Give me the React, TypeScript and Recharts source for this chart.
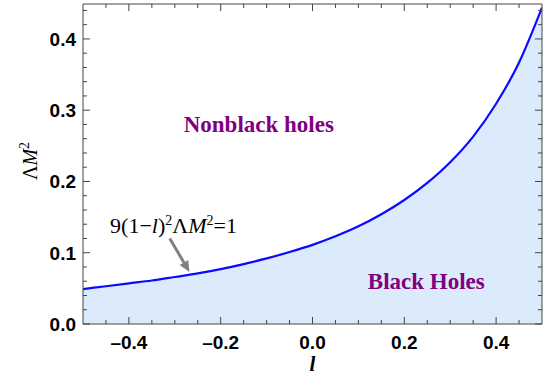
import {
  ComposedChart,
  Area,
  Line,
  XAxis,
  YAxis,
  ReferenceLine,
  ReferenceDot,
} from "recharts";

const L_VALUES = [
  -0.5, -0.45, -0.4, -0.35, -0.3, -0.25, -0.2, -0.15, -0.1, -0.05, 0, 0.05, 0.1,
  0.15, 0.2, 0.25, 0.3, 0.35, 0.4, 0.45, 0.5,
];
const LAMBDA_M2 = [
  0.049, 0.053, 0.057, 0.061, 0.066, 0.071, 0.077, 0.084, 0.092, 0.101, 0.111,
  0.123, 0.137, 0.154, 0.174, 0.198, 0.227, 0.263, 0.309, 0.367, 0.444,
];

const X_TICKS = [
  -0.45, -0.4, -0.35, -0.3, -0.25, -0.2, -0.15, -0.1, -0.05, 0, 0.05, 0.1, 0.15,
  0.2, 0.25, 0.3, 0.35, 0.4, 0.45,
];
const Y_TICKS = [
  0, 0.02, 0.04, 0.06, 0.08, 0.1, 0.12, 0.14, 0.16, 0.18, 0.2, 0.22, 0.24, 0.26,
  0.28, 0.3, 0.32, 0.34, 0.36, 0.38, 0.4, 0.42, 0.44,
];

const data = L_VALUES.map((l, i) => ({ l, y: LAMBDA_M2[i] }));

const FRAME = "#444";
const TICK_FONT = "'Liberation Sans', Arial, sans-serif";
const SERIF = "'Liberation Serif', 'Times New Roman', serif";
const PURPLE = "#800080";

const isMult = (v: number, step: number) =>
  Math.abs(v / step - Math.round(v / step)) < 1e-6;

// en dash for negatives, like the original
const fmt = (v: number) => (v < 0 ? "\u2013" + (-v).toFixed(1) : v.toFixed(1));

const BottomTick = (p: any) => {
  const v = p.payload.value;
  const major = isMult(v, 0.2);
  return (
    <g>
      <line x1={p.x} y1={p.y} x2={p.x} y2={p.y - (major ? 7 : 4)} stroke={FRAME} />
      {major && (
        <text
          x={p.x}
          y={p.y + 25}
          textAnchor="middle"
          fontFamily={TICK_FONT}
          fontWeight="bold"
          fontSize={19}
          fill="#000"
        >
          {fmt(v)}
        </text>
      )}
    </g>
  );
};

const TopTick = (p: any) => {
  const major = isMult(p.payload.value, 0.2);
  return <line x1={p.x} y1={p.y} x2={p.x} y2={p.y + (major ? 7 : 4)} stroke={FRAME} />;
};

const LeftTick = (p: any) => {
  const v = p.payload.value;
  const major = isMult(v, 0.1);
  return (
    <g>
      <line x1={p.x} y1={p.y} x2={p.x + (major ? 7 : 4)} y2={p.y} stroke={FRAME} />
      {major && (
        <text
          x={p.x - 7}
          y={p.y + 7}
          textAnchor="end"
          fontFamily={TICK_FONT}
          fontWeight="bold"
          fontSize={19}
          fill="#000"
        >
          {fmt(v)}
        </text>
      )}
    </g>
  );
};

const RightTick = (p: any) => {
  const major = isMult(p.payload.value, 0.1);
  return <line x1={p.x} y1={p.y} x2={p.x - (major ? 7 : 4)} y2={p.y} stroke={FRAME} />;
};

const Arrow = (p: any) => {
  const { x1, y1, x2, y2 } = p;
  const dx = x2 - x1;
  const dy = y2 - y1;
  const len = Math.sqrt(dx * dx + dy * dy);
  const ux = dx / len;
  const uy = dy / len;
  const hl = 11;
  const hw = 5;
  const bx = x2 - ux * hl;
  const by = y2 - uy * hl;
  return (
    <g>
      <line x1={x1} y1={y1} x2={bx} y2={by} stroke="#808080" strokeWidth={3} />
      <polygon
        points={`${x2},${y2} ${bx - uy * hw},${by + ux * hw} ${bx + uy * hw},${by - ux * hw}`}
        fill="#808080"
      />
    </g>
  );
};

const textShape = (content: any, anchor: string, props: any) => (p: any) => (
  <text x={p.cx} y={p.cy} textAnchor={anchor} {...props}>
    {content}
  </text>
);

export default function App() {
  return (
    <div style={{ position: "absolute", left: 0, top: 0 }}>
      <ComposedChart
        width={556}
        height={379}
        data={data}
        margin={{ top: 3, right: 13, bottom: 0, left: 0 }}
      >
        <XAxis
          xAxisId="x"
          dataKey="l"
          type="number"
          domain={[-0.5, 0.5]}
          allowDataOverflow
          ticks={X_TICKS}
          interval={0}
          tickSize={0}
          tickMargin={0}
          tickLine={false}
          tick={<BottomTick />}
          axisLine={{ stroke: FRAME }}
          height={55}
          label={{
            content: (lp: any) => (
              <text
                x={lp.viewBox.x + lp.viewBox.width / 2}
                y={lp.viewBox.y + 47}
                textAnchor="middle"
                fontFamily={SERIF}
                fontStyle="italic"
                fontWeight="bold"
                fontSize={21}
              >
                l
              </text>
            ),
          }}
        />
        <XAxis
          xAxisId="top"
          orientation="top"
          dataKey="l"
          type="number"
          domain={[-0.5, 0.5]}
          allowDataOverflow
          ticks={X_TICKS}
          interval={0}
          tickSize={0}
          tickMargin={0}
          tickLine={false}
          tick={<TopTick />}
          axisLine={{ stroke: FRAME }}
          height={1}
        />
        <YAxis
          yAxisId="y"
          type="number"
          domain={[0, 0.449]}
          allowDataOverflow
          ticks={Y_TICKS}
          interval={0}
          tickSize={0}
          tickMargin={0}
          tickLine={false}
          tick={<LeftTick />}
          axisLine={{ stroke: FRAME }}
          width={83}
          label={{
            content: (lp: any) => {
              const cx = 37;
              const cy = lp.viewBox.y + lp.viewBox.height / 2 - 3;
              return (
                <text
                  transform={`translate(${cx},${cy}) rotate(-90)`}
                  textAnchor="middle"
                  fontFamily={SERIF}
                  fontSize={20}
                >
                  Λ<tspan fontStyle="italic">M</tspan>
                  <tspan fontSize={14} dy={-8}>
                    2
                  </tspan>
                </text>
              );
            },
          }}
        />
        <YAxis
          yAxisId="right"
          orientation="right"
          type="number"
          domain={[0, 0.449]}
          allowDataOverflow
          ticks={Y_TICKS}
          interval={0}
          tickSize={0}
          tickMargin={0}
          tickLine={false}
          tick={<RightTick />}
          axisLine={{ stroke: FRAME }}
          width={1}
        />
        <Area
          xAxisId="x"
          yAxisId="y"
          type="monotone"
          dataKey="y"
          stroke="#0a0aff"
          strokeWidth={2.2}
          fill="#dcebfc"
          fillOpacity={1}
          isAnimationActive={false}
        />
        {/* hidden copy so the mirrored frame axes get a domain */}
        <Line
          xAxisId="top"
          yAxisId="right"
          dataKey="y"
          stroke="none"
          dot={false}
          activeDot={false}
          isAnimationActive={false}
        />
        <ReferenceLine
          xAxisId="x"
          yAxisId="y"
          segment={[
            { x: -0.311, y: 0.12 },
            { x: -0.268, y: 0.073 },
          ]}
          shape={<Arrow />}
        />
        <ReferenceDot
          xAxisId="x"
          yAxisId="y"
          x={-0.441}
          y={0.127}
          shape={textShape(
            <>
              9(1−<tspan fontStyle="italic">l</tspan>)
              <tspan fontSize={14} dy={-8}>2</tspan>
              <tspan dy={8}>Λ</tspan>
              <tspan fontStyle="italic">M</tspan>
              <tspan fontSize={14} dy={-8}>2</tspan>
              <tspan dy={8}>=1</tspan>
            </>,
            "start",
            { fontFamily: SERIF, fontSize: 22, fill: "#000" }
          )}
        />
        <ReferenceDot
          xAxisId="x"
          yAxisId="y"
          x={-0.117}
          y={0.27}
          shape={textShape("Nonblack holes", "middle", {
            fontFamily: SERIF,
            fontSize: 23,
            fontWeight: "bold",
            fill: PURPLE,
          })}
        />
        <ReferenceDot
          xAxisId="x"
          yAxisId="y"
          x={0.248}
          y={0.049}
          shape={textShape("Black Holes", "middle", {
            fontFamily: SERIF,
            fontSize: 23,
            fontWeight: "bold",
            fill: PURPLE,
          })}
        />
      </ComposedChart>
    </div>
  );
}
